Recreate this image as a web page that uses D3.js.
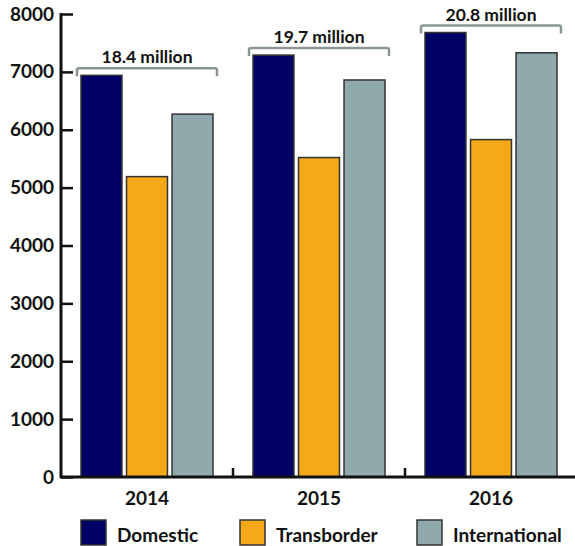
<!DOCTYPE html>
<html>
<head>
<meta charset="UTF-8">
<script src="https://d3js.org/d3.v7.min.js"></script>
<style>
  body { margin: 0; background: #fff; }
  text { font-family: Lato, "Open Sans", sans-serif; font-weight: bold; fill: #111; }
</style>
</head>
<body>
<script>
var years = ["2014", "2015", "2016"];
var series = ["Domestic", "Transborder", "International"];
var domestic = [6940, 7290, 7680];
var transborder = [5190, 5520, 5830];
var international = [6270, 6860, 7330];
var totals = ["18.4 million", "19.7 million", "20.8 million"];
var yTicks = [0, 1000, 2000, 3000, 4000, 5000, 6000, 7000, 8000];

var colors = d3.scaleOrdinal().domain(series).range(["#000066", "#F5A918", "#8FA9AD"]);
var values = [domestic, transborder, international];

var width = 575, height = 546;
var svg = d3.select("body").append("svg").attr("width", width).attr("height", height);

var x0 = d3.scaleBand().domain(years).range([61, 577]);
var x1 = d3.scaleBand().domain(series).range([20, x0.bandwidth() - 20]).paddingInner(0.1);
var y = d3.scaleLinear().domain([0, 8000]).range([477, 14]);

// bars
var groups = svg.selectAll(".grp").data(years).enter().append("g")
    .attr("transform", function (d) { return "translate(" + x0(d) + ",0)"; });

groups.selectAll("rect")
    .data(function (d, i) { return series.map(function (s, j) { return { s: s, v: values[j][i] }; }); })
    .enter().append("rect")
    .attr("x", function (d) { return x1(d.s); })
    .attr("y", function (d) { return y(d.v); })
    .attr("width", x1.bandwidth())
    .attr("height", function (d) { return y(0) - y(d.v); })
    .attr("fill", function (d) { return colors(d.s); })
    .attr("stroke", "#333")
    .attr("stroke-width", 1.5);

// brackets with totals
groups.each(function (d, i) {
    var g = d3.select(this);
    var top = y(d3.max(values, function (v) { return v[i]; })) - 7;
    var x1a = x1(series[0]) - 4, x1b = x1(series[2]) + x1.bandwidth() + 4;
    g.append("path")
        .attr("d", "M" + x1a + "," + (top + 8) + " L" + x1a + "," + (top + 2) + " Q" + x1a + "," + top + " " + (x1a + 2) + "," + top +
            " L" + (x1b - 2) + "," + top + " Q" + x1b + "," + top + " " + x1b + "," + (top + 2) + " L" + x1b + "," + (top + 8))
        .attr("fill", "none").attr("stroke", "#8a9696").attr("stroke-width", 2.5);
    g.append("text")
        .attr("x", (x1a + x1b) / 2).attr("y", top - 5)
        .attr("text-anchor", "middle").style("font-size", "17.5px")
        .text(totals[i]);
});

// y axis
var yAxis = svg.append("g").attr("transform", "translate(61,0)")
    .call(d3.axisLeft(y).tickValues(yTicks).tickSize(-12).tickPadding(7).tickFormat(d3.format("d")));
yAxis.select(".domain").remove();
yAxis.selectAll("line").attr("stroke", "#111").attr("stroke-width", 2.5);
yAxis.selectAll("text").style("font-size", "19px").attr("fill", "#111")
    .style("font-family", "Lato, sans-serif").style("font-weight", "bold");
svg.append("line").attr("x1", 61).attr("x2", 61).attr("y1", 13).attr("y2", 478)
    .attr("stroke", "#111").attr("stroke-width", 3);

// x axis
svg.append("line").attr("x1", 60).attr("x2", 577).attr("y1", 477).attr("y2", 477)
    .attr("stroke", "#111").attr("stroke-width", 3);
svg.selectAll(".xtick").data(years.slice(1)).enter().append("line")
    .attr("x1", function (d) { return x0(d); }).attr("x2", function (d) { return x0(d); })
    .attr("y1", 477).attr("y2", 468)
    .attr("stroke", "#111").attr("stroke-width", 2.5);
svg.selectAll(".xlab").data(years).enter().append("text")
    .attr("x", function (d) { return x0(d) + x0.bandwidth() / 2; })
    .attr("y", 505).attr("text-anchor", "middle").style("font-size", "19px")
    .text(function (d) { return d; });

// legend
var legendX = [81, 240, 417];
var legend = svg.selectAll(".leg").data(series).enter().append("g")
    .attr("transform", function (d, i) { return "translate(" + legendX[i] + ",520)"; });
legend.append("rect").attr("width", 25).attr("height", 25)
    .attr("fill", function (d) { return colors(d); })
    .attr("stroke", "#333").attr("stroke-width", 1.5);
legend.append("text").attr("x", 36).attr("y", 22).style("font-size", "19px")
    .text(function (d) { return d; });
</script>
</body>
</html>
